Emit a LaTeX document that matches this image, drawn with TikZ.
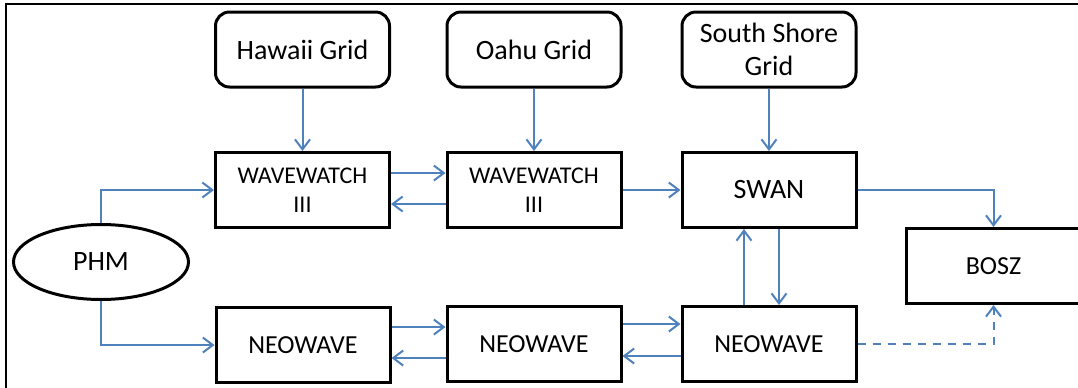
\documentclass[tikz,border=0pt]{standalone}
\usepackage{fontspec}
\setmainfont{Carlito}
\usetikzlibrary{arrows.meta,positioning,shapes}
\definecolor{flowblue}{RGB}{79,129,189}

\begin{document}
\begin{tikzpicture}[x=0.5pt,y=-0.5pt,
  gridbox/.style={draw,line width=1.5pt,rounded corners=7pt,minimum width=87pt,minimum height=37.5pt,inner sep=0pt,align=center,font=\fontsize{14}{16.5}\selectfont},
  modelbox/.style={draw,line width=1.5pt,minimum width=87pt,minimum height=37.5pt,inner sep=0pt,align=center},
  flow/.style={flowblue,line width=1pt,-{Straight Barb[length=5pt,width=7.5pt]}}]
\useasboundingbox (0,0) rectangle (1078,387);
\clip (0,0) rectangle (1078,387);
% frame
\draw[line width=1pt] (6,400) -- (6,4) -- (1090,4);
% grids
\node[gridbox] (hawaii) at (302.5,49.5) {Hawaii Grid};
\node[gridbox] (oahu) at (534,49.5) {Oahu Grid};
\node[gridbox] (south) at (769,49.5) {South Shore\\Grid};
% models
\node[modelbox,font=\fontsize{12}{14.5}\selectfont] (ww1) at (302.5,190) {WAVEWATCH\\III};
\node[modelbox,font=\fontsize{12}{14.5}\selectfont] (ww2) at (534,190) {WAVEWATCH\\III};
\node[modelbox,font=\fontsize{14}{16.5}\selectfont] (swan) at (769,190) {SWAN};
\node[modelbox,font=\fontsize{13}{15}\selectfont] (neo1) at (303,345) {NEOWAVE};
\node[modelbox,font=\fontsize{13}{15}\selectfont] (neo2) at (534,344) {NEOWAVE};
\node[modelbox,font=\fontsize{13}{15}\selectfont] (neo3) at (769,344) {NEOWAVE};
\node[modelbox,font=\fontsize{13}{15}\selectfont] (bosz) at (993.5,266) {BOSZ};
\node[draw,ellipse,line width=1.5pt,minimum width=87.5pt,minimum height=37.5pt,inner sep=0pt,font=\fontsize{14}{16.5}\selectfont] (phm) at (101,262) {PHM};
% connectors
\draw[flow] (hawaii) -- (ww1);
\draw[flow] (oahu) -- (ww2);
\draw[flow] (south) -- (swan);
\draw[flow] (phm.north) |- (ww1.west);
\draw[flow] (phm.south) |- (neo1.west);
\draw[flow] ([yshift=8.5pt]ww1.east) -- ([yshift=8.5pt]ww2.west);
\draw[flow] ([yshift=-7pt]ww2.west) -- ([yshift=-7pt]ww1.east);
\draw[flow] (ww2) -- (swan);
\draw[flow] ([yshift=9pt]neo1.east) -- ([yshift=9pt]neo1.east -| neo2.west);
\draw[flow] ([yshift=-7pt]neo2.west) -- ([yshift=-7pt]neo2.west -| neo1.east);
\draw[flow] ([yshift=10pt]neo2.east) -- ([yshift=10pt]neo3.west);
\draw[flow] ([yshift=-6pt]neo3.west) -- ([yshift=-6pt]neo2.east);
\draw[flow] ([xshift=-12.5pt]neo3.north) -- ([xshift=-12.5pt]swan.south);
\draw[flow] ([xshift=5pt]swan.south) -- ([xshift=5pt]neo3.north);
\draw[flow] (swan.east) -| (bosz.north);
\draw[flow,dash pattern=on 4pt off 3.5pt] (neo3.east) -| (bosz.south);
\end{tikzpicture}
\end{document}
